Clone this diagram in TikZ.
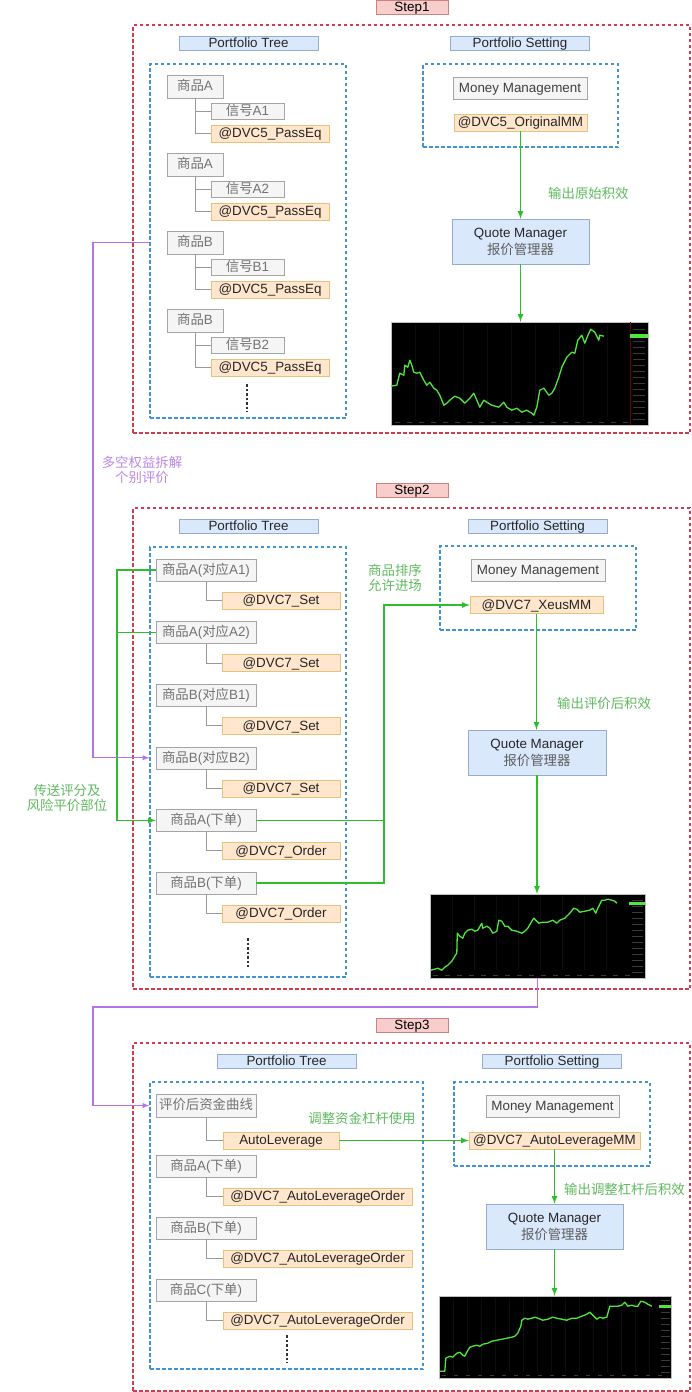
\documentclass[tikz,border=0pt]{standalone}
\usepackage{fontspec}
\setmainfont{Liberation Sans}
\newfontfamily\zhfont{Noto Sans CJK SC}
\newcommand\zh[1]{{\zhfont #1}}
\definecolor{stepred}{RGB}{214,58,78}
\definecolor{boxblue}{RGB}{66,146,214}
\definecolor{stepfill}{RGB}{248,206,204}
\definecolor{stepline}{RGB}{205,130,130}
\definecolor{headfill}{RGB}{218,232,252}
\definecolor{headline}{RGB}{150,172,205}
\definecolor{itemfill}{RGB}{245,245,245}
\definecolor{itemline}{RGB}{165,165,165}
\definecolor{itemtext}{RGB}{115,115,115}
\definecolor{funcfill}{RGB}{255,230,204}
\definecolor{funcline}{RGB}{228,195,125}
\definecolor{flowgreen}{RGB}{45,190,45}
\definecolor{labelgreen}{RGB}{95,185,95}
\definecolor{backpurple}{RGB}{180,115,230}
\definecolor{labelpurple}{RGB}{185,135,230}
\definecolor{curvegreen}{RGB}{80,230,60}
\definecolor{qmsub}{RGB}{95,95,95}
\begin{document}
\begin{tikzpicture}[>=latex, x=1pt, y=-1pt, font=\fontsize{13.4}{15}\selectfont,
  boxtext/.style={inner sep=0, text height=9.7pt, text depth=1pt},
  stepbox/.style={boxtext, draw=stepline, fill=stepfill, minimum width=72, minimum height=14},
  headbox/.style={boxtext, draw=headline, fill=headfill, text=black!85, minimum width=139, minimum height=14},
  itembox/.style={boxtext, draw=itemline, fill=itemfill, text=itemtext},
  funcbox/.style={boxtext, draw=funcline, fill=funcfill, text=black!85},
  qmbox/.style={draw=headline, fill=headfill, text=black!85, align=center, inner sep=0, font=\fontsize{13.4}{17}\selectfont},
  reddash/.style={draw=stepred, line width=1.2pt, dash pattern=on 3.5pt off 2.5pt, inner sep=0},
  bluedash/.style={draw=boxblue, line width=1.2pt, dash pattern=on 3.5pt off 2.5pt, inner sep=0},
  treeline/.style={draw=gray!80, line width=1pt},
  dotline/.style={draw=black!80, line width=1.2pt, dash pattern=on 2.5pt off 2pt},
  flow/.style={draw=flowgreen, line width=1.6pt, ->},
  back/.style={draw=backpurple, line width=1.3pt, ->},
  greenlabel/.style={text=labelgreen, font=\fontsize{13.4}{15}\selectfont\zhfont, align=center, inner sep=0},
  purplelabel/.style={text=labelpurple, font=\fontsize{13.4}{15}\selectfont\zhfont, align=center, inner sep=0},
  chartbox/.style={fill=black, draw=gray!50, inner sep=0},
  curve/.style={draw=curvegreen, line width=1.3pt, line join=round},
  axismark/.style={draw=gray!45!black, line width=1.3pt},
  gridline/.style={draw=gray!10!black, line width=.4pt}]
\useasboundingbox (0,0) rectangle (691,1392);
% step 1 begin
\node[reddash, minimum width=557, minimum height=408] (s1) at (411.5,229) {};
\node[stepbox] (st1) at (412,7) {Step1};
\node[headbox] (ht1) at (248.5,43.5) {Portfolio Tree};
\node[bluedash, minimum width=196, minimum height=354] (tree1) at (248,241) {};
\foreach \i/\p/\s [evaluate=\i as \t using 75+78*\i] in {0/A/A1,1/A/A2,2/B/B1,3/B/B2}{
  \node[itembox, minimum width=56, minimum height=23] (ta\i) at (195,\t+11.5) {\zh{商品}\p};
  \node[itembox, minimum width=73, minimum height=16] (tb\i) at (247.5,\t+36) {\zh{信号}\s};
  \node[funcbox, minimum width=118, minimum height=17] (tc\i) at (270,\t+58.5) {@DVC5\_PassEq};
  \draw[treeline] (ta\i.south) |- (tb\i.west);
  \draw[treeline] (ta\i.south) |- (tc\i.west);
}
\draw[dotline] (247,384) -- (247,412);
\node[headbox] (hs1) at (520,43.5) {Portfolio Setting};
\node[bluedash, minimum width=195, minimum height=83] (set1) at (520.5,105.5) {};
\node[itembox, text=black!75, minimum width=134, minimum height=22] (mm1) at (520,88) {Money Management};
\node[funcbox, minimum width=133, minimum height=17] (fm1) at (520.5,122.5) {@DVC5\_OriginalMM};
\node[qmbox, minimum width=137, minimum height=45] (qm1) at (520.5,241.5) {Quote Manager\\\textcolor{qmsub}{\zh{报价管理器}}};
\node[chartbox, minimum width=257, minimum height=103] (c1) at (519.5,373.5) {};
\begin{scope}[shift={(c1.south west)}, y=1pt]
  \foreach \k in {1,...,9} \draw[gridline] (24*\k,8) -- (24*\k,100);
  \draw[draw=red!40!black, line width=.6pt] (239,0) -- (239,103);
  \foreach \k in {1,...,16} \draw[axismark] (242,6*\k) -- ++(12,0);
  \foreach \k in {0,...,19} \draw[axismark] (4+12*\k,3) -- ++(5,0);
  \fill[curvegreen] (239,87.5) rectangle (257,91);
  \draw[curve] plot coordinates {(0,39) (6,40) (9,52) (13,50) (14,60) (17,58) (19,65) (21,60) (23,53) (26,52) (29,53) (33,45) (36,40) (39,43) (43,37) (46,35) (49,30) (53,20) (56,22) (59,25) (64,29) (69,27) (74,22) (79,27) (83,32) (86,25) (89,18) (93,25) (96,23) (101,20) (108,18) (113,23) (116,18) (121,15) (126,17) (131,13) (136,15) (141,12) (143,10) (146,18) (149,35) (153,37) (158,30) (161,32) (164,37) (168,48) (171,58) (176,68) (181,73) (184,72) (187,85) (191,90) (194,82) (198,92) (200,96) (204,93) (208,85) (209,90) (213,89)};
\end{scope}
\draw[flow] (fm1.south) -- (fm1.south |- qm1.north);
\draw[flow] (qm1.south) -- (qm1.south |- c1.north);
\node[greenlabel, anchor=west] (l1) at (548,193) {输出原始积效};
% step 1 end
% step 2 begin
\node[reddash, minimum width=557, minimum height=481] (s2) at (411.5,748.5) {};
\node[stepbox] (st2) at (412,490) {Step2};
\node[headbox] (ht2) at (248.5,526) {Portfolio Tree};
\node[bluedash, minimum width=196, minimum height=430] (tree2) at (248,762) {};
\foreach \i/\p/\f [evaluate=\i as \t using 559+62.6*\i] in {0/{A(\zh{对应}A1)}/Set,1/{A(\zh{对应}A2)}/Set,2/{B(\zh{对应}B1)}/Set,3/{B(\zh{对应}B2)}/Set,4/{A(\zh{下单})}/Order,5/{B(\zh{下单})}/Order}{
  \node[itembox, minimum width=100, minimum height=22] (q\i) at (206,\t+11) {\zh{商品}\p};
  \node[funcbox, minimum width=118, minimum height=17] (r\i) at (281,\t+41.5) {@DVC7\_\f};
  \draw[treeline] (q\i.south) |- (r\i.west);
}
\draw[dotline] (248,938) -- (248,967);
\node[headbox] (hs2) at (537.5,526) {Portfolio Setting};
\node[bluedash, minimum width=196, minimum height=84] (set2) at (538,588) {};
\node[itembox, text=black!75, minimum width=134, minimum height=22] (mm2) at (538,570) {Money Management};
\node[funcbox, minimum width=133, minimum height=17] (xmm) at (536.5,605) {@DVC7\_XeusMM};
\node[qmbox, minimum width=138, minimum height=45] (qm2) at (537,752.5) {Quote Manager\\\textcolor{qmsub}{\zh{报价管理器}}};
\node[chartbox, minimum width=215, minimum height=84] (c2) at (537.5,936) {};
\begin{scope}[shift={(c2.south west)}, y=1pt]
  \foreach \k in {1,...,8} \draw[gridline] (22*\k,8) -- (22*\k,82);
  \foreach \k in {1,...,13} \draw[axismark] (202,6*\k) -- ++(11,0);
  \foreach \k in {0,...,16} \draw[axismark] (3+12*\k,3) -- ++(5,0);
  \fill[curvegreen] (199,73.5) rectangle (215,76.5);
  \draw[curve] plot coordinates {(1,8) (5,9) (8,10) (12,8) (15,11) (18,13) (22,17) (25,22) (27,25) (27.5,45) (30,42) (33,40) (35,45) (38,48) (42,49) (45,47) (48,48) (52,55) (53,50) (57,52) (60,50) (63,45) (67,47) (69,58) (72,57) (75,52) (78,52) (82,48) (87,47) (92,45) (95,47) (98,50) (102,57) (104,60) (107,57) (109,55) (113,56) (118,56) (123,58) (127,55) (130,58) (135,60) (140,65) (144,70) (147,69) (150,66) (155,67) (160,68) (163,70) (166,65) (168,70) (172,78) (175,78) (178,79) (182,78) (185,77) (187,75)};
\end{scope}
\coordinate (sendx) at (117,0);
\draw[flow] (q0.west) -- (sendx |- q0.west) |- (q4.west);
\draw[flowgreen, line width=1.6pt] (q1.west) -- (sendx |- q1.west);
\node[greenlabel] (l2) at (67,797.5) {传送评分及\\风险平价部位};
\coordinate (sortx) at (384,0);
\draw[flow] (q5.east) -- (sortx |- q5.east) |- (xmm.west);
\draw[flowgreen, line width=1.6pt] (q4.east) -- (sortx |- q4.east);
\node[greenlabel] (l3) at (395,578) {商品排序\\允许进场};
\draw[flow] (xmm.south) -- (xmm.south |- qm2.north);
\draw[flow] (qm2.south) -- (qm2.south |- c2.north);
\node[greenlabel, anchor=west] (l4) at (557,703) {输出评价后积效};
% step 2 end
% step 3 begin
\node[reddash, minimum width=557, minimum height=348] (s3) at (411.5,1217) {};
\node[stepbox] (st3) at (412,1025) {Step3};
\node[headbox] (ht3) at (286.5,1061.5) {Portfolio Tree};
\node[bluedash, minimum width=273, minimum height=287] (tree3) at (286.5,1225.5) {};
\node[itembox, minimum width=100, minimum height=23] (ev) at (206,1105.5) {\zh{评价后资金曲线}};
\node[funcbox, minimum width=116, minimum height=17] (al) at (281,1140.5) {AutoLeverage};
\draw[treeline] (ev.south) |- (al.west);
\foreach \i/\p [evaluate=\i as \t using 1155+62*\i] in {0/A,1/B,2/C}{
  \node[itembox, minimum width=100, minimum height=22] (u\i) at (206,\t+11) {\zh{商品}\p(\zh{下单})};
  \node[funcbox, minimum width=189, minimum height=17] (v\i) at (317.5,\t+41.5) {@DVC7\_AutoLeverageOrder};
  \draw[treeline] (u\i.south) |- (v\i.west);
}
\draw[dotline] (287,1335) -- (287,1363);
\node[headbox] (hs3) at (552,1061.5) {Portfolio Setting};
\node[bluedash, minimum width=196, minimum height=84] (set3) at (552,1124) {};
\node[itembox, text=black!75, minimum width=133, minimum height=22] (mm3) at (552.5,1106) {Money Management};
\node[funcbox, minimum width=171, minimum height=17] (alm) at (554.5,1140.5) {@DVC7\_AutoLeverageMM};
\node[qmbox, minimum width=137, minimum height=45] (qm3) at (554.5,1226.5) {Quote Manager\\\textcolor{qmsub}{\zh{报价管理器}}};
\node[chartbox, minimum width=232, minimum height=82] (c3) at (555,1337) {};
\begin{scope}[shift={(c3.south west)}, y=1pt]
  \foreach \k in {1,...,15} \draw[gridline] (14*\k,6) -- (14*\k,80);
  \foreach \k in {1,...,13} \draw[axismark] (222,6*\k) -- ++(9,0);
  \foreach \k in {0,...,18} \draw[axismark] (3+12*\k,2.5) -- ++(4,0);
  \fill[curvegreen] (220,70.5) rectangle (232,73.5);
  \draw[curve] plot coordinates {(1,7) (6,7) (7,20) (11,22) (14,21) (18,25) (21,26) (24,23) (26,22) (28,26) (31,31) (34,32) (38,33) (41,32) (44,34) (49,35) (53,37) (58,38) (63,39) (68,40) (73,41) (76,42) (79,45) (82,52) (83,58) (86,60) (89,59) (93,60) (96,61) (99,60) (104,58) (109,59) (114,61) (118,60) (123,59) (128,58) (133,60) (138,60) (143,62) (148,64) (151,66) (154,63) (158,59) (161,61) (164,60) (168,61) (171,72) (176,72) (179,72) (183,73) (186,76) (189,72) (193,73) (196,72) (199,72) (202,77) (206,76) (209,74) (213,72)};
\end{scope}
\draw[flow] (al.east) -- (alm.west);
\node[greenlabel] (l5) at (362,1118) {调整资金杠杆使用};
\draw[flow] (alm.south) -- (alm.south |- qm3.north);
\draw[flow] (qm3.south) -- (qm3.south |- c3.north);
\node[greenlabel, anchor=west] (l6) at (564,1189) {输出调整杠杆后积效};
% step 3 end
% purple links
\coordinate (splitx) at (93,0);
\draw[back] (tree1.west |- ta2) -- (splitx |- ta2) |- (tree2.west |- q3);
\node[purplelabel] (l7) at (142,470) {多空权益拆解\\个别评价};
\coordinate (backx) at (93,1007);
\draw[back] (c2.south) |- (backx) |- (tree3.west |- ev);
\end{tikzpicture}
\end{document}
